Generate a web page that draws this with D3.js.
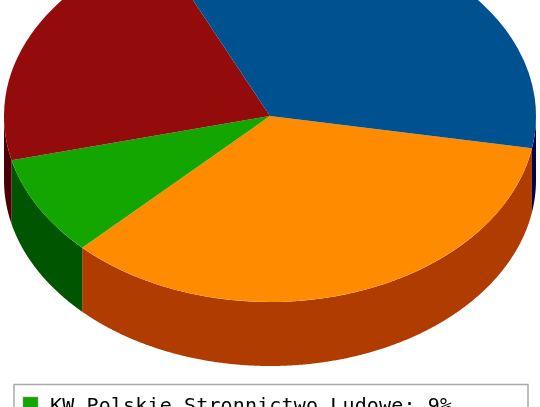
<!DOCTYPE html>
<html>
<head>
<meta charset="utf-8">
<script src="https://cdn.jsdelivr.net/npm/d3@7"></script>
<style>
html, body { margin: 0; padding: 0; background: #fff; overflow: hidden; }
svg { display: block; filter: blur(0.45px); }
.legend-label { font-family: "DejaVu Sans Mono", monospace; font-size: 20px; fill: #000; }
</style>
</head>
<body>
<div id="chart"></div>
<script>
// only the first legend row is visible in the picture, the rest is cut off
var LEGEND_LABELS = ["KW Polskie Stronnictwo Ludowe: 9%"];
var LEGEND_COLORS = ["#13a500"];

// slices clockwise, starting at the orange one
var sliceNames = ["orange", "green", "red", "blue"];
var sliceValues = [34.7, 8.7, 21.9, 34.7];
var topColors = ["#ff8c00", "#13a500", "#930b0b", "#00518f"];
var sideColors = ["#b03c00", "#005500", "#4a0005", "#000050"];

var width = 540,
    height = 407,
    cx = 270,
    cy = 116,
    rx = 266,
    ry = 186,
    depth = 64,
    startDeg = 100;

var svg = d3.select("#chart")
    .append("svg")
        .attr("width", width)
        .attr("height", height);

var pie = d3.pie()
    .sort(null)
    .value(function(d) { return d; })
    .startAngle(startDeg * Math.PI / 180)
    .endAngle((startDeg + 360) * Math.PI / 180);

var slices = pie(sliceValues);

// Side walls, only the front half of the ellipse can be seen
var wall = d3.area()
    .x(function(a) { return cx + rx * Math.sin(a); })
    .y0(function(a) { return cy - ry * Math.cos(a); })
    .y1(function(a) { return cy - ry * Math.cos(a) + depth; });

function frontAngles(d) {
    var lo = Math.PI / 2, hi = 3 * Math.PI / 2;
    var a0 = d.startAngle, a1 = d.endAngle;
    // the last slice wraps past a full turn
    if (a1 > 2 * Math.PI + lo) { a0 = 2 * Math.PI + lo; return d3.range(a0, a1, 0.005).concat([a1]).map(function(a) { return a - 2 * Math.PI; }); }
    a0 = Math.max(a0, lo);
    a1 = Math.min(a1, hi);
    if (a0 >= a1) return [];
    return d3.range(a0, a1, 0.005).concat([a1]);
}

svg.append("g").attr("class", "walls")
    .selectAll("path")
    .data(slices)
    .enter()
    .append("path")
    .attr("d", function(d) { return wall(frontAngles(d)); })
    .attr("fill", function(d, i) { return sideColors[i]; });

// Top face
var arc = d3.arc().innerRadius(0).outerRadius(rx);

svg.append("g").attr("class", "top")
    .attr("transform", "translate(" + cx + "," + cy + ") scale(1," + (ry / rx) + ")")
    .selectAll("path")
    .data(slices)
    .enter()
    .append("path")
    .attr("d", arc)
    .attr("fill", function(d, i) { return topColors[i]; })
    .attr("data-name", function(d, i) { return sliceNames[i]; });

// Legend box runs off the bottom of the picture
var legend = svg.append("g").attr("class", "legend");

legend.append("rect")
    .attr("x", 14)
    .attr("y", 384.5)
    .attr("width", 514)
    .attr("height", 60)
    .attr("fill", "#fff")
    .attr("stroke", "#a9a9a9")
    .attr("stroke-width", 1.5);

var rows = legend.selectAll("g.row")
    .data(LEGEND_LABELS)
    .enter()
    .append("g")
    .attr("class", "row");

rows.append("rect")
    .attr("x", 23)
    .attr("y", 397)
    .attr("width", 15)
    .attr("height", 16)
    .attr("fill", function(d, i) { return LEGEND_COLORS[i]; })
    .attr("stroke", "#999")
    .attr("stroke-width", 0.5);

rows.append("text")
    .attr("class", "legend-label")
    .attr("x", 50)
    .attr("y", 411.5)
    .attr("textLength", 402)
    .text(function(d) { return d; });
</script>
</body>
</html>
